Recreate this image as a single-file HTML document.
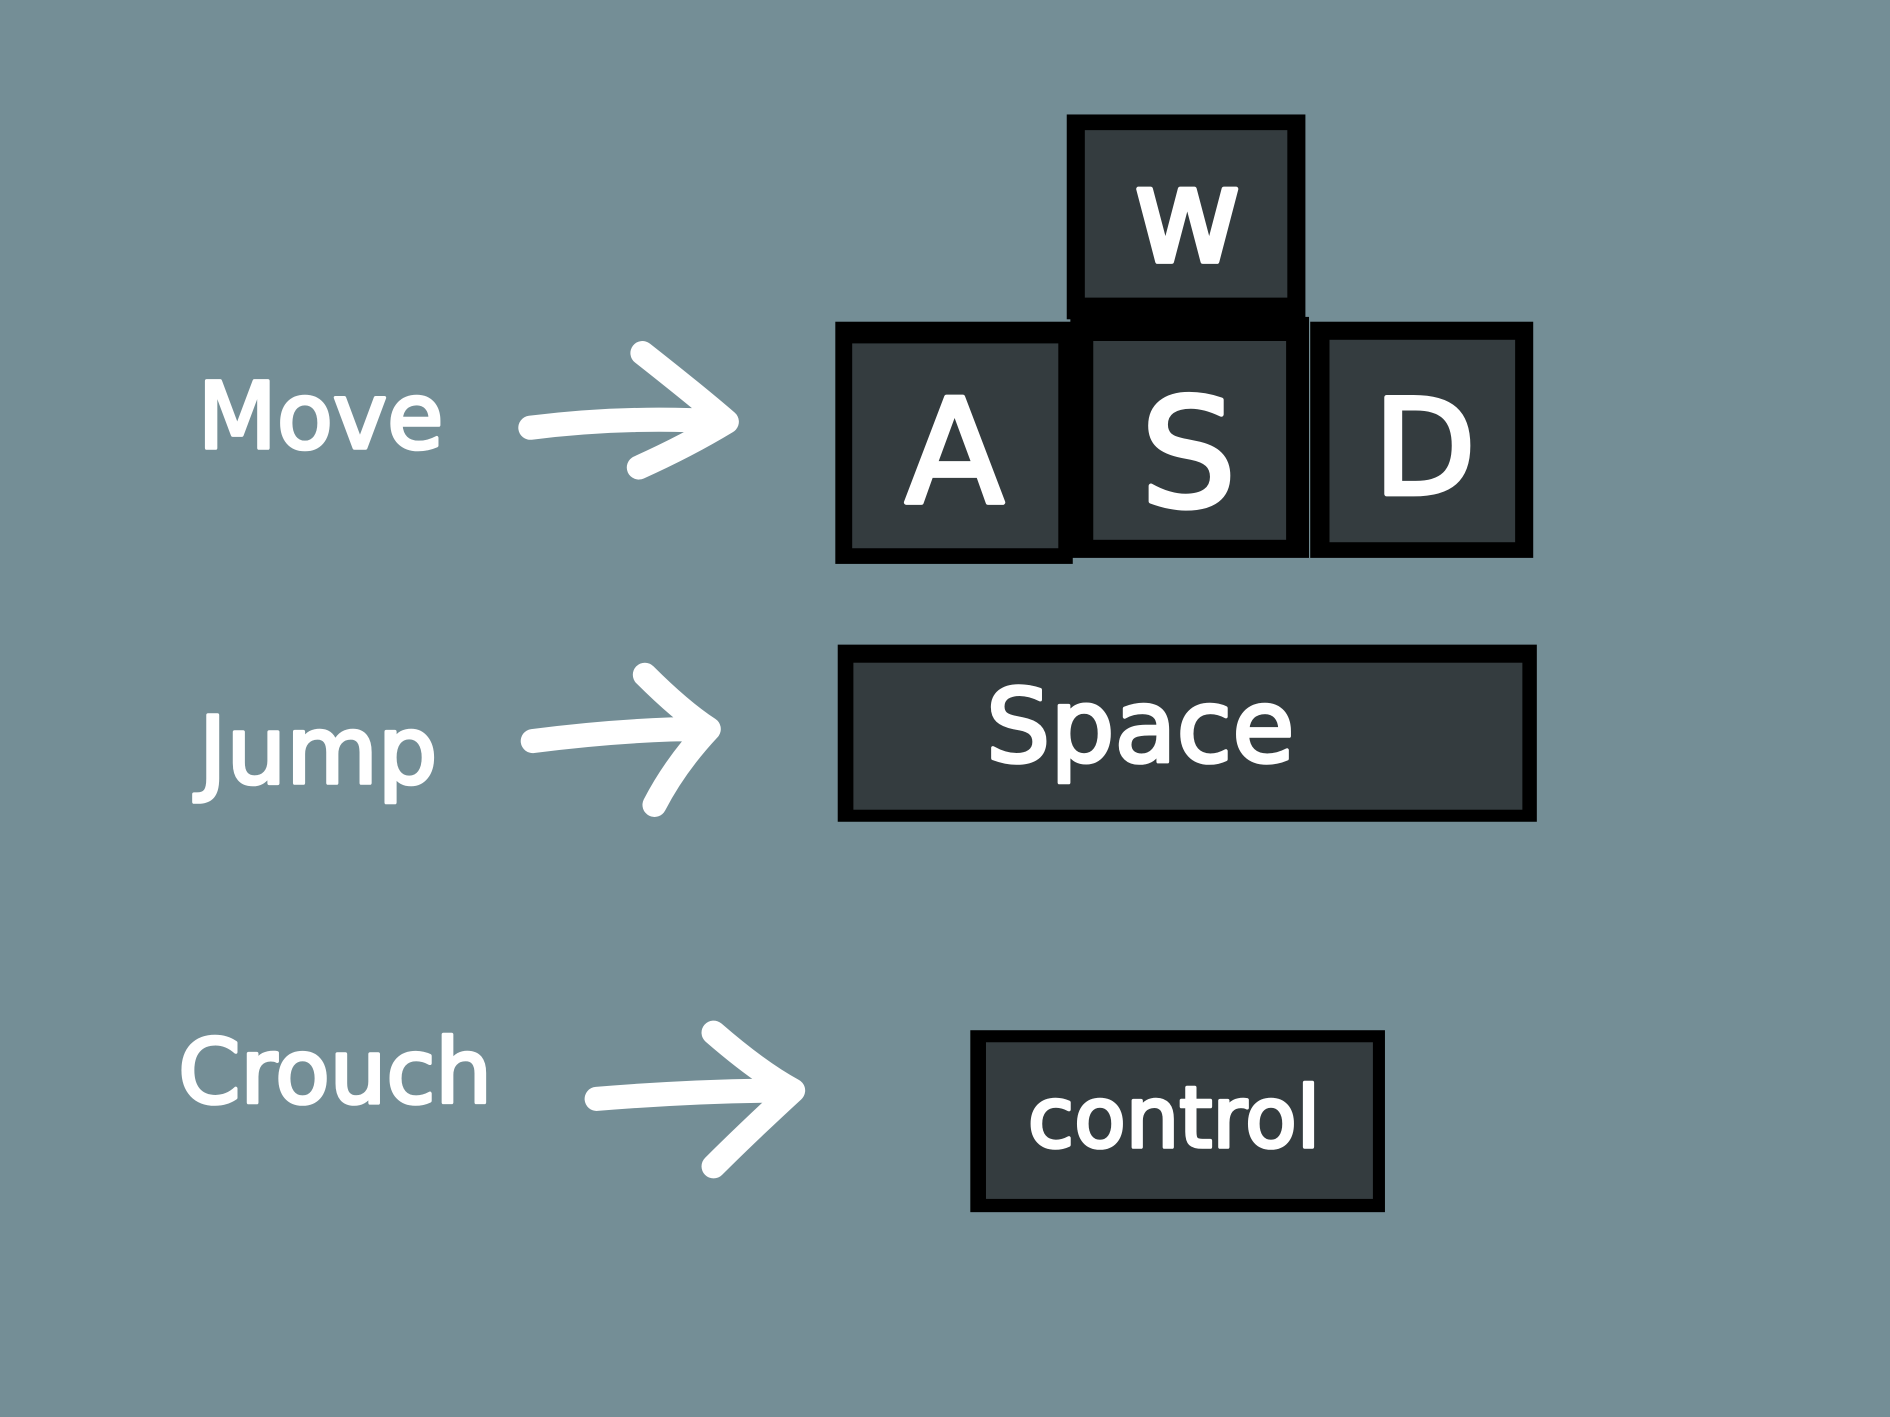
<!DOCTYPE html>
<html><head><meta charset="utf-8"><style>
html,body{margin:0;padding:0;background:#748e96;}
svg{display:block}
text{font-family:"DejaVu Sans","Liberation Sans",sans-serif;fill:#fff;stroke:#fff;stroke-linejoin:round;text-anchor:middle}
</style></head><body>
<svg width="1890" height="1417" viewBox="0 0 1568 1176" preserveAspectRatio="none">
<rect width="1568" height="1176" fill="#748e96"/>
<g><rect x="885" y="95" width="198" height="170" fill="#000"/><rect x="900" y="108" width="168" height="139" fill="#343c3f"/><text x="985" y="217" font-size="110" stroke-width="4">w</text></g>
<g><rect x="693" y="267" width="197" height="201" fill="#000"/><rect x="707" y="285" width="171" height="170" fill="#343c3f"/><text x="792" y="417" font-size="120" stroke-width="4">A</text></g>
<g><rect x="888" y="263" width="198" height="200" fill="#000"/><rect x="907" y="283" width="160" height="165" fill="#343c3f"/><text x="986" y="420" font-size="125" stroke-width="4">S</text></g>
<g><rect x="1087" y="267" width="185" height="196" fill="#000"/><rect x="1103" y="282" width="154" height="168" fill="#343c3f"/><text x="1182" y="410" font-size="110" stroke-width="4">D</text></g>
<g><rect x="695" y="535" width="580" height="147" fill="#000"/><rect x="708" y="550" width="555" height="122" fill="#343c3f"/><text x="946" y="632" font-size="84" stroke-width="3">Space</text></g>
<g><rect x="805" y="855" width="344" height="151" fill="#000"/><rect x="818" y="865" width="321" height="130" fill="#343c3f"/><text x="974" y="952" font-size="70" stroke-width="3">control</text></g>
<text x="266" y="372" font-size="76" stroke-width="3">Move</text>
<text x="264" y="650" font-size="78" stroke-width="3">Jump</text>
<text x="278" y="915" font-size="74" stroke-width="3">Crouch</text>
<g fill="none" stroke="#fff" stroke-width="20" stroke-linecap="round" stroke-linejoin="round">
<path d="M440 355 Q520 345 600 350 M533 293 Q580 330 603 350 Q570 370 530 388"/>
<path d="M442 615 Q520 605 585 605 M535 560 Q565 590 588 605 Q560 635 543 668"/>
<path d="M495 912 Q580 905 655 905 M592 857 Q630 890 658 905 Q620 940 592 968"/>
</g>
</svg>
</body></html>
